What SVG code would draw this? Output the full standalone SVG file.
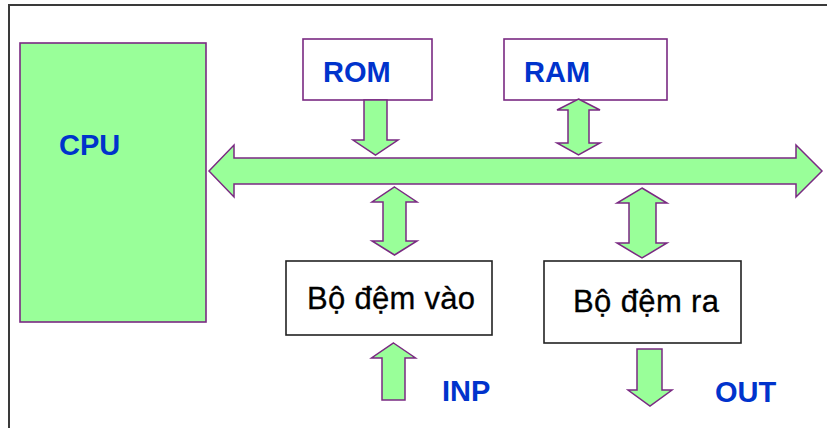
<svg xmlns="http://www.w3.org/2000/svg" width="827" height="428" viewBox="0 0 827 428">
  <style>
    .frame { stroke: #3a3a3a; stroke-width: 2; fill: none; }
    .cpu { fill: #99FF99; stroke: #7A2A82; stroke-width: 1.6; }
    .mem { fill: #FFFFFF; stroke: #7A2A82; stroke-width: 1.6; }
    .buf { fill: #FFFFFF; stroke: #222222; stroke-width: 1.6; }
    .arrow { fill: #99FF99; stroke: #7A2A82; stroke-width: 1.5; stroke-linejoin: miter; }
    .lbl { font-family: "Liberation Sans", Arial, sans-serif; font-weight: bold; font-size: 29px; fill: #0033CC; }
    .txt { font-family: "Liberation Sans", Arial, sans-serif; font-size: 31px; fill: #000000; stroke: #000000; stroke-width: 0.3; }
  </style>

  <rect width="827" height="428" fill="#FFFFFF"/>

  <!-- page frame: top and left edges -->
  <path class="frame" d="M9,428 L9,5 L827,5"/>

  <g id="cpu">
    <rect class="cpu" x="20" y="43" width="186" height="279"/>
    <text class="lbl" x="59" y="155">CPU</text>
  </g>

  <g id="rom">
    <rect class="mem" x="303" y="39" width="129" height="61"/>
    <text class="lbl" x="323" y="82">ROM</text>
  </g>

  <g id="ram">
    <rect class="mem" x="504" y="39" width="163" height="61"/>
    <text class="lbl" x="524" y="82">RAM</text>
  </g>

  <g id="input-buffer">
    <rect class="buf" x="286" y="261" width="206" height="74"/>
    <text class="txt" x="307" y="309" textLength="168" lengthAdjust="spacing">Bộ đệm vào</text>
  </g>

  <g id="output-buffer">
    <rect class="buf" x="544" y="261" width="197" height="82"/>
    <text class="txt" x="573" y="312" textLength="146" lengthAdjust="spacing">Bộ đệm ra</text>
  </g>

  <g id="inp-label">
    <text class="lbl" x="442" y="401">INP</text>
  </g>

  <g id="out-label">
    <text class="lbl" x="715" y="402">OUT</text>
  </g>

  <g id="connectors">
    <!-- system bus -->
    <polygon class="arrow" points="209,171 234,145 234,158 796,158 796,145 822,171 796,197 796,184 234,184 234,197"/>
    <!-- ROM to bus -->
    <polygon class="arrow" points="364,100 387,100 387,140 398,140 375.5,155 353,140 364,140"/>
    <!-- RAM <-> bus -->
    <polygon class="arrow" points="578.5,99 600,110 589,110 589,143 600,143 578.5,155 557,143 568,143 568,110 557,110"/>
    <!-- bus <-> input buffer -->
    <polygon class="arrow" points="394.5,187 417,202 406,202 406,241 417,241 394.5,255 372,241 383,241 383,202 372,202"/>
    <!-- bus <-> output buffer -->
    <polygon class="arrow" points="642,188 667,203 656,203 656,243 667,243 642,258 617,243 629,243 629,203 617,203"/>
    <!-- input into input buffer -->
    <polygon class="arrow" points="393.5,343 415.5,358 405,358 405,400 382,400 382,358 371.5,358"/>
    <!-- output from output buffer -->
    <polygon class="arrow" points="637,349 662,349 662,390 672,390 650,406 628,390 637,390"/>
  </g>
</svg>
